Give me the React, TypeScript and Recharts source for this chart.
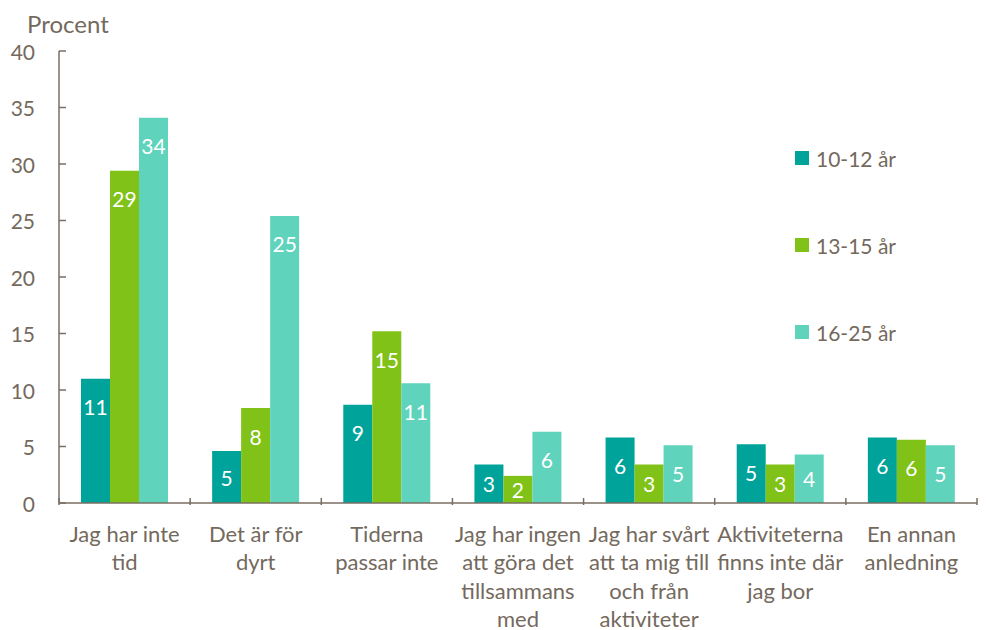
import { BarChart, Bar, XAxis, YAxis, Legend, LabelList } from "recharts";

const reasons = [
  "Jag har inte\ntid",
  "Det är för\ndyrt",
  "Tiderna\npassar inte",
  "Jag har ingen\natt göra det\ntillsammans\nmed",
  "Jag har svårt\natt ta mig till\noch från\naktiviteter",
  "Aktiviteterna\nfinns inte där\njag bor",
  "En annan\nanledning",
];

const age10to12 = [11.0, 4.6, 8.7, 3.4, 5.8, 5.2, 5.8];
const age13to15 = [29.4, 8.4, 15.2, 2.4, 3.4, 3.4, 5.6];
const age16to25 = [34.1, 25.4, 10.6, 6.3, 5.1, 4.3, 5.1];

const yTicks = [0, 5, 10, 15, 20, 25, 30, 35, 40];

const seriesNames = ["10-12 år", "13-15 år", "16-25 år"];
const colors = ["#00A39A", "#80C217", "#60D3BD"];

const TEXT = "#74695D";
const AXIS = "#7A6E63";
const FONT = "Lato, 'Open Sans', sans-serif";

const W = 986;
const H = 630;
const LEFT = 59;
const RIGHT = 9;
const BAND = (W - LEFT - RIGHT) / reasons.length;

const data = reasons.map((r, i) => ({
  name: r,
  a: age10to12[i],
  b: age13to15[i],
  c: age16to25[i],
}));

function XTick(props: any) {
  const { x, y, payload, index } = props;
  const lines = String(payload.value).split("\n");
  return (
    <g>
      <line x1={x - BAND / 2} x2={x - BAND / 2} y1={y} y2={y - 7} stroke={AXIS} strokeWidth={1.5} />
      {index === reasons.length - 1 && (
        <line x1={x + BAND / 2} x2={x + BAND / 2} y1={y} y2={y - 7} stroke={AXIS} strokeWidth={1.5} />
      )}
      <text x={x} textAnchor="middle" fill={TEXT} fontSize={22} fontFamily={FONT}>
        {lines.map((l, i) => (
          <tspan key={i} x={x} y={y + 36.5 + i * 28.5}>
            {l}
          </tspan>
        ))}
      </text>
    </g>
  );
}

function YTick(props: any) {
  const { x, y, payload } = props;
  return (
    <g>
      <line x1={LEFT} x2={LEFT + 7} y1={y} y2={y} stroke={AXIS} strokeWidth={1.5} />
      <text x={x} y={y} textAnchor="end" dominantBaseline="central" fill={TEXT} fontSize={21} fontFamily={FONT}>
        {payload.value}
      </text>
    </g>
  );
}

function BarValue(props: any) {
  const { x, y, width, height, value } = props;
  return (
    <text
      x={x + width / 2}
      y={y + Math.min(28, height / 2)}
      textAnchor="middle"
      dominantBaseline="central"
      fill="#ffffff"
      fontSize={21}
      fontFamily={FONT}
    >
      {Math.round(value)}
    </text>
  );
}

function ProcentLabel() {
  return (
    <text x={27} y={33} fill={TEXT} fontSize={24} fontFamily={FONT}>
      Procent
    </text>
  );
}

function LegendBox(props: any) {
  const { payload } = props;
  return (
    <div style={{ fontFamily: FONT }}>
      {payload.map((p: any) => (
        <div key={p.value} style={{ display: "flex", alignItems: "center", height: 30, marginBottom: 57 }}>
          <span style={{ width: 14, height: 14, background: p.color, display: "inline-block", marginRight: 7 }} />
          <span style={{ color: TEXT, fontSize: 21 }}>{p.value}</span>
        </div>
      ))}
    </div>
  );
}

export default function App() {
  return (
    <div style={{ position: "fixed", left: 0, top: 0, width: W, height: H, background: "#fff", fontFamily: FONT }}>
      <BarChart
        width={W}
        height={H}
        data={data}
        margin={{ top: 51, right: RIGHT, left: 0, bottom: 0 }}
        barCategoryGap={22}
        barGap={0}
      >
        <XAxis
          dataKey="name"
          interval={0}
          height={127}
          tickSize={0}
          tickLine={false}
          axisLine={{ stroke: AXIS, strokeWidth: 1.5 }}
          tick={<XTick />}
        />
        <YAxis
          width={LEFT}
          domain={[0, 40]}
          ticks={yTicks}
          interval={0}
          tickSize={0}
          tickMargin={24}
          tickLine={false}
          axisLine={{ stroke: AXIS, strokeWidth: 1.5 }}
          tick={<YTick />}
          label={{ value: "Procent", content: ProcentLabel }}
        />
        <Legend
          layout="horizontal"
          verticalAlign="middle"
          align="center"
          wrapperStyle={{ left: 795, top: 143, width: 150, height: 260 }}
          content={<LegendBox />}
        />
        <Bar dataKey="a" name={seriesNames[0]} fill={colors[0]} isAnimationActive={false}>
          <LabelList dataKey="a" content={<BarValue />} />
        </Bar>
        <Bar dataKey="b" name={seriesNames[1]} fill={colors[1]} isAnimationActive={false}>
          <LabelList dataKey="b" content={<BarValue />} />
        </Bar>
        <Bar dataKey="c" name={seriesNames[2]} fill={colors[2]} isAnimationActive={false}>
          <LabelList dataKey="c" content={<BarValue />} />
        </Bar>
      </BarChart>
    </div>
  );
}
